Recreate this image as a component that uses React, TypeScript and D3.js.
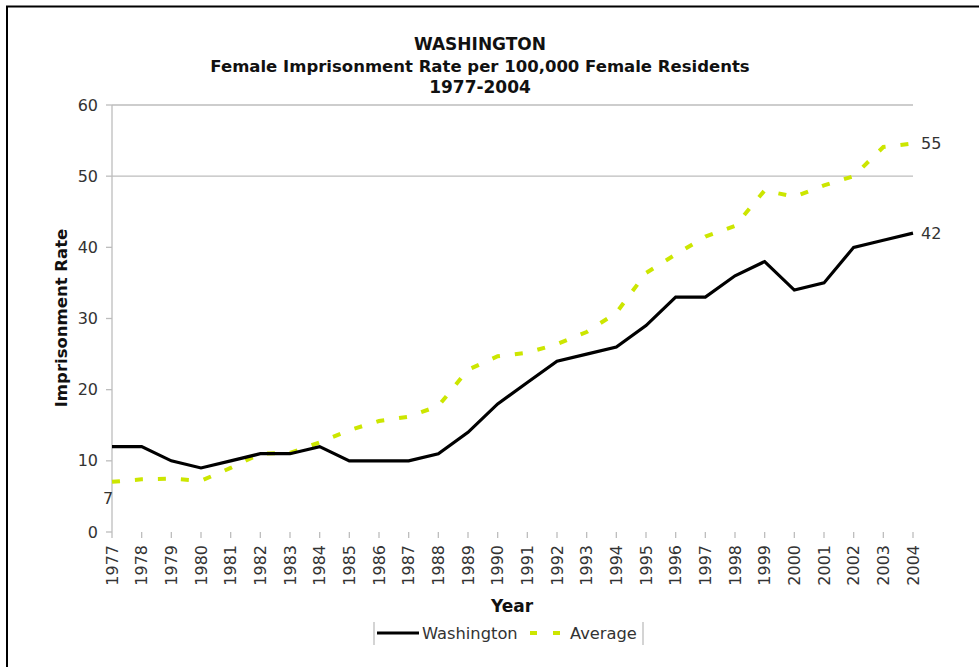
import React from "react";
import * as d3 from "d3";

const years: number[] = d3.range(1977, 2005);
const washington: number[] = [12, 12, 10, 9, 10, 11, 11, 12, 10, 10, 10, 11, 14, 18, 21, 24, 25, 26, 29, 33, 33, 36, 38, 34, 35, 40, 41, 42];
const average: number[] = [7.05, 7.4, 7.5, 7.2, 9, 11, 11.1, 12.6, 14.3, 15.6, 16.2, 17.7, 22.8, 24.7, 25.2, 26.4, 28.1, 30.8, 36.4, 39, 41.5, 43, 48, 47.1, 48.7, 50, 54.1, 54.6];
const yTicks: number[] = [0, 10, 20, 30, 40, 50, 60];
const gridValues: number[] = [50, 60];
const titleLines: string[] = ["WASHINGTON", "Female Imprisonment Rate per 100,000 Female Residents", "1977-2004"];

const W = 979;
const H = 667;
const GREEN = "#cce600";
const FONT = "'DejaVu Sans', Verdana, sans-serif";

export default function App() {
  const x = d3.scalePoint<number>().domain(years).range([112, 913]);
  const y = d3.scaleLinear().domain([0, 60]).range([532, 105]);
  const line = d3
    .line<number>()
    .x((_, i) => x(years[i]) as number)
    .y((d) => y(d));

  const n = years.length - 1;

  return (
    <svg
      width={W}
      height={H}
      style={{ position: "absolute", left: 0, top: 0, background: "#fff" }}
      fontFamily={FONT}
    >
      <rect x={0} y={0} width={W} height={H} fill="#fff" />
      <rect x={7} y={6.5} width={W + 20} height={H + 20} fill="none" stroke="#000" strokeWidth={2} />

      {/* Title */}
      {titleLines.map((t, i) => (
        <text
          key={i}
          x={480}
          y={50 + i * 21.5}
          textAnchor="middle"
          fontWeight="bold"
          fontSize={i === 1 ? 16.5 : 17}
          fill="#111"
        >
          {t}
        </text>
      ))}

      {/* grid */}
      {gridValues.map((v) => (
        <line key={v} x1={112} x2={913} y1={y(v)} y2={y(v)} stroke="#bdbdbd" strokeWidth={1.3} />
      ))}

      {/* y axis */}
      <line x1={112} x2={112} y1={y(60)} y2={y(0)} stroke="#bdbdbd" strokeWidth={1.3} />
      {yTicks.map((v) => (
        <g key={v}>
          <line x1={106} x2={112} y1={y(v)} y2={y(v)} stroke="#bdbdbd" strokeWidth={1.3} />
          <text x={98} y={y(v)} dy="0.35em" textAnchor="end" fontSize={16} fill="#333">
            {v}
          </text>
        </g>
      ))}

      {/* x ticks */}
      {years.map((yr) => (
        <g key={yr}>
          <line x1={x(yr)} x2={x(yr)} y1={532} y2={538} stroke="#bdbdbd" strokeWidth={1.3} />
          <text
            transform={`translate(${(x(yr) as number) + 5.5},545) rotate(-90)`}
            textAnchor="end"
            fontSize={16}
            fill="#333"
          >
            {yr}
          </text>
        </g>
      ))}

      {/* axis titles */}
      <text
        transform={`translate(67,318) rotate(-90)`}
        textAnchor="middle"
        fontWeight="bold"
        fontSize={16.5}
        fill="#111"
      >
        Imprisonment Rate
      </text>
      <text x={512} y={612} textAnchor="middle" fontWeight="bold" fontSize={17} fill="#111">
        Year
      </text>

      {/* lines */}
      <path d={line(average) || ""} fill="none" stroke={GREEN} strokeWidth={4} strokeDasharray="8 15" />
      <path d={line(washington) || ""} fill="none" stroke="#000" strokeWidth={3.2} strokeLinejoin="miter" />

      {/* data labels */}
      <text x={(x(years[0]) as number) - 4} y={y(average[0]) + 17} dy="0.35em" textAnchor="middle" fontSize={16} fill="#333">
        {Math.round(average[0])}
      </text>
      <text x={(x(years[n]) as number) + 8} y={y(average[n])} dy="0.35em" fontSize={16} fill="#333">
        {Math.round(average[n])}
      </text>
      <text x={(x(years[n]) as number) + 8} y={y(washington[n])} dy="0.35em" fontSize={16} fill="#333">
        {Math.round(washington[n])}
      </text>

      {/* legend */}
      <line x1={374} x2={374} y1={622} y2={645} stroke="#bdbdbd" strokeWidth={1.3} />
      <line x1={643} x2={643} y1={622} y2={645} stroke="#bdbdbd" strokeWidth={1.3} />
      <line x1={377} x2={419} y1={633} y2={633} stroke="#000" strokeWidth={3.2} />
      <text x={422} y={633} dy="0.35em" fontSize={16.3} fill="#333">
        Washington
      </text>
      <line x1={530} x2={562} y1={633} y2={633} stroke={GREEN} strokeWidth={4} strokeDasharray="7 16" />
      <text x={570} y={633} dy="0.35em" fontSize={16.3} fill="#333">
        Average
      </text>
    </svg>
  );
}
